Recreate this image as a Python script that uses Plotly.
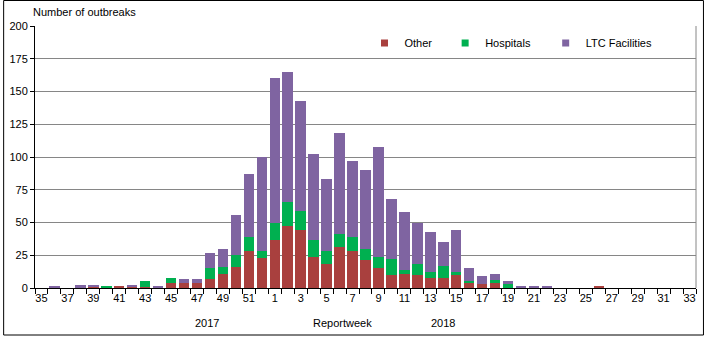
import plotly.graph_objects as go

weeks = [35, 36, 37, 38, 39, 40, 41, 42, 43, 44, 45, 46, 47, 48, 49, 50, 51, 52,
         1, 2, 3, 4, 5, 6, 7, 8, 9, 10, 11, 12, 13, 14, 15, 16, 17, 18, 19, 20,
         21, 22, 23, 24, 25, 26, 27, 28, 29, 30, 31, 32, 33]

other = [0, 0, 0, 0, 1, 0, 1, 1, 1, 0, 4, 4, 4, 7, 11, 16, 28, 23,
         37, 47, 44, 24, 18, 31, 28, 21, 15, 10, 11, 10, 8, 8, 10, 4, 3, 4, 0, 0,
         0, 0, 0, 0, 0, 1, 0, 0, 0, 0, 0, 0, 0]

hospitals = [0, 0, 0, 0, 0, 1, 0, 0, 4, 0, 4, 0, 0, 8, 5, 9, 11, 5,
             13, 19, 15, 13, 10, 10, 11, 9, 9, 12, 3, 8, 4, 9, 2, 1, 0, 2, 3, 0,
             0, 0, 0, 0, 0, 0, 0, 0, 0, 0, 0, 0, 0]

ltc = [0, 1, 0, 2, 1, 0, 0, 1, 0, 1, 0, 3, 3, 12, 14, 31, 48, 72,
       110, 99, 84, 65, 55, 77, 58, 60, 84, 46, 44, 32, 31, 18, 32, 10, 6, 5, 2, 1,
       1, 1, 0, 0, 0, 0, 0, 0, 0, 0, 0, 0, 0]

y_ticks = [0, 25, 50, 75, 100, 125, 150, 175, 200]

series = [("Other", other, "#A9403E"),
          ("Hospitals", hospitals, "#00B050"),
          ("LTC Facilities", ltc, "#7F64A1")]

x = list(range(len(weeks)))
font = "Liberation Sans, Arial, sans-serif"

L, R, T, B = 32, 9, 26, 50
W, H = 705, 338
pw = W - L - R
ph = H - T - B


def px_x(p):
    return (p - L) / pw


def px_y(p):
    return (H - B - p) / ph


fig = go.Figure()
legend_names = ["legend", "legend2", "legend3"]
for (name, vals, col), lg in zip(series, legend_names):
    fig.add_bar(x=x, y=vals, name=name, marker=dict(color=col, line=dict(width=0)),
                showlegend=False)
    fig.add_scatter(x=[None], y=[None], mode="markers", name=name,
                    marker=dict(symbol="square", size=7, color=col),
                    showlegend=True, legend=lg)

legend_x = [363, 444, 545]
leg_common = dict(orientation="h", yanchor="middle", xanchor="left",
                  bgcolor="rgba(0,0,0,0)", font=dict(size=11), itemwidth=30,
                  borderwidth=0)

fig.update_layout(
    width=W, height=H,
    margin=dict(l=L, r=R, t=T, b=B, pad=0),
    barmode="stack", bargap=0.19,
    plot_bgcolor="white", paper_bgcolor="white",
    font=dict(family=font, size=11, color="black"),
    showlegend=True,
    legend=dict(x=px_x(legend_x[0]), y=px_y(43), **leg_common),
    legend2=dict(x=px_x(legend_x[1]), y=px_y(43), **leg_common),
    legend3=dict(x=px_x(legend_x[2]), y=px_y(43), **leg_common),
    xaxis=dict(
        range=[-0.5, len(weeks) - 0.5],
        tickmode="array", tickvals=x[::2], ticktext=[str(w) for w in weeks[::2]],
        ticks="", showgrid=False, zeroline=False,
        showline=True, linecolor="black", linewidth=1,
        tickfont=dict(size=11),
        minor=dict(tickmode="linear", tick0=-0.5, dtick=1, ticks="outside",
                   ticklen=5, tickcolor="black", tickwidth=1, showgrid=False),
    ),
    yaxis=dict(
        range=[0, 200], tickmode="array", tickvals=y_ticks,
        ticks="outside", ticklen=4, tickcolor="black",
        showline=True, linecolor="black", linewidth=1,
        showgrid=True, gridcolor="#868686", gridwidth=1, zeroline=False,
        tickfont=dict(size=11),
    ),
    shapes=[
        dict(type="line", xref="paper", yref="paper", x0=1, x1=1, y0=0, y1=1,
             line=dict(color="#868686", width=1)),
        dict(type="rect", xref="paper", yref="paper",
             x0=px_x(0.5), x1=px_x(703.5), y0=px_y(0.5), y1=px_y(335),
             line=dict(color="black", width=1), layer="below"),
    ],
    annotations=[
        dict(text="Number of outbreaks", xref="paper", yref="paper", x=px_x(28), y=px_y(12),
             xanchor="left", yanchor="middle", showarrow=False, font=dict(size=11)),
        dict(text="2017", xref="paper", yref="paper", x=px_x(205), y=px_y(323),
             xanchor="center", yanchor="middle", showarrow=False, font=dict(size=11)),
        dict(text="Reportweek", xref="paper", yref="paper", x=px_x(341), y=px_y(323),
             xanchor="center", yanchor="middle", showarrow=False, font=dict(size=11)),
        dict(text="2018", xref="paper", yref="paper", x=px_x(442), y=px_y(323),
             xanchor="center", yanchor="middle", showarrow=False, font=dict(size=11)),
    ],
)

fig.write_html("out.html")
